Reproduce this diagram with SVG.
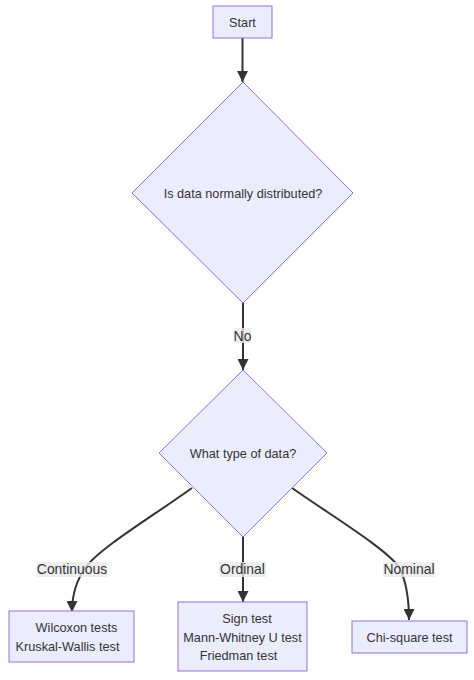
<svg xmlns="http://www.w3.org/2000/svg" width="474" height="680" viewBox="0 0 474 680">
<style>
.node rect,.node polygon{fill:#ECECFF;stroke:#9370DB;stroke-width:1}
text{font-family:"Trebuchet MS","Liberation Sans",Arial,sans-serif;font-size:12.7px;fill:#333;text-anchor:middle}
.edge{fill:none;stroke:#333;stroke-width:2}
.lbl rect{fill:#e8e8e8;opacity:0.8}
.lbl text{font-size:13.9px}
</style>
<defs>
<marker id="arr" markerUnits="userSpaceOnUse" viewBox="0 0 10 10" refX="10" refY="5" markerWidth="11" markerHeight="11" orient="auto">
<path d="M0,0 L10,5 L0,10 z" fill="#333"/>
</marker>
</defs>
<rect width="474" height="680" fill="#ffffff"/>
<g id="connectors">
<path class="edge" d="M242.5,38 L242.5,82" marker-end="url(#arr)"/>
<path class="edge" d="M243,303 L243,370" marker-end="url(#arr)"/>
<path class="edge" d="M192,488 C150,518 100,548 86,567 Q72,586 72,612" marker-end="url(#arr)"/>
<path class="edge" d="M243,537 L243,602" marker-end="url(#arr)"/>
<path class="edge" d="M292,488 C335,518 385,548 399,567 Q409,586 409,620" marker-end="url(#arr)"/>
<g class="lbl">
<rect x="234" y="328" width="17" height="15"/>
<text x="242.5" y="341">No</text>
<rect x="37" y="562" width="70" height="15"/>
<text x="72" y="574">Continuous</text>
<rect x="219" y="562" width="47" height="15"/>
<text x="242.5" y="574">Ordinal</text>
<rect x="383" y="562" width="52" height="15"/>
<text x="409" y="574">Nominal</text>
</g>
</g>
<g id="start" class="node">
<rect x="213" y="6" width="59" height="32"/>
<text x="242.5" y="26.5">Start</text>
</g>
<g id="normal" class="node">
<polygon points="243,82 353,193 243,303 132,193"/>
<text x="243" y="197.5">Is data normally distributed?</text>
</g>
<g id="type" class="node">
<polygon points="243,370 327,453 243,537 159,453"/>
<text x="243" y="457.5">What type of data?</text>
</g>
<g id="continuous" class="node">
<rect x="9" y="611" width="125" height="51"/>
<text x="76.5" y="631.5">Wilcoxon tests</text>
<text x="67.5" y="650.5">Kruskal-Wallis test</text>
</g>
<g id="ordinal" class="node">
<rect x="178" y="602" width="129" height="69"/>
<text x="247" y="622.5">Sign test</text>
<text x="242.5" y="641.5">Mann-Whitney U test</text>
<text x="238.5" y="659.5">Friedman test</text>
</g>
<g id="nominal" class="node">
<rect x="352" y="621" width="115" height="32"/>
<text x="409.5" y="641.5">Chi-square test</text>
</g>
</svg>
